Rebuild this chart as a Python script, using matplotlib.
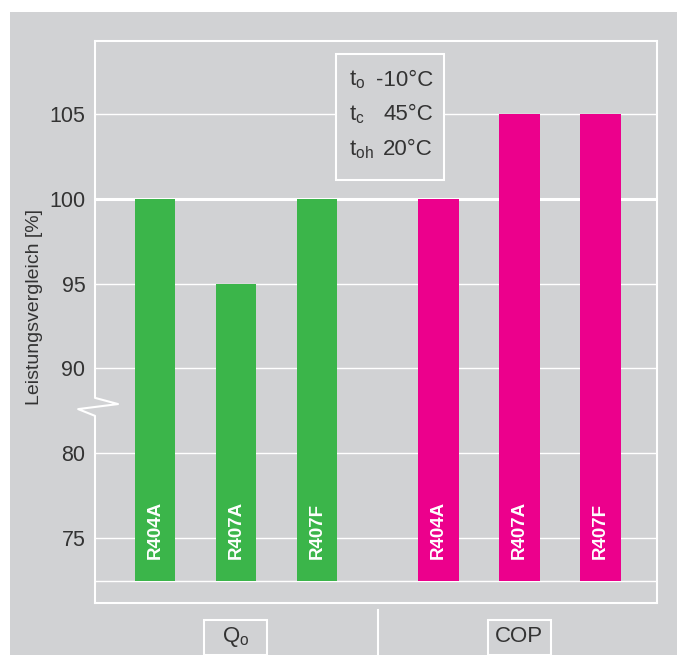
import numpy as np
import matplotlib.pyplot as plt
from matplotlib import font_manager
from matplotlib.patches import Rectangle
from matplotlib.lines import Line2D
from matplotlib.transforms import blended_transform_factory

names = {f.name for f in font_manager.fontManager.ttflist}
narrow = 'Liberation Sans Narrow' if 'Liberation Sans Narrow' in names else 'Liberation Sans'
plt.rcParams['font.family'] = [narrow, 'DejaVu Sans']

groups = ['Q$_\\mathregular{o}$', 'COP']
refrigerants = ['R404A', 'R407A', 'R407F']
qo_values = [100, 95, 100]
cop_values = [100, 105, 105]
yticks = [75, 80, 90, 95, 100, 105]
base = 72.5
conditions = [('t$_\\mathregular{o}$', '-10°C'), ('t$_\\mathregular{c}$', '45°C'), ('t$_\\mathregular{oh}$', '20°C')]

GRAY = '#d1d2d4'
GREEN = '#3bb54a'
MAGENTA = '#ec008c'
TXT = '#333333'


# broken y axis: 80..90 squeezed to the height of 5 units
def fwd(v):
    v = np.asarray(v, float)
    return np.where(v <= 80, (v - 75) / 5, np.where(v <= 90, 1 + (v - 80) / 10, 2 + (v - 90) / 5))


def inv(p):
    p = np.asarray(p, float)
    return np.where(p <= 1, 75 + 5 * p, np.where(p <= 2, 80 + 10 * (p - 1), 90 + 5 * (p - 2)))


fig = plt.figure(figsize=(6.77, 6.55), dpi=100, facecolor='white')
fig.patches.append(Rectangle((10 / 677, 0), 1, (655 - 12) / 655, transform=fig.transFigure,
                             facecolor=GRAY, edgecolor='none', zorder=-10))

ax = fig.add_axes([95 / 677, 52 / 655, 562 / 677, 562 / 655])
ax.set_facecolor('none')
ax.set_yscale('function', functions=(fwd, inv))
ax.set_ylim(71.18, 109.3)
ax.set_xlim(-0.74, 6.2)

x1 = np.arange(3)
x2 = np.arange(3) + 3.5

for y in yticks + [base]:
    ax.axhline(y, color='white', lw=2.2 if y == 100 else 1, zorder=1)

ax.bar(x1, np.array(qo_values) - base, bottom=base, width=0.5, color=GREEN, zorder=3)
ax.bar(x2, np.array(cop_values) - base, bottom=base, width=0.5, color=MAGENTA, zorder=3)
for xs in (x1, x2):
    for x, name in zip(xs, refrigerants):
        ax.text(x, 73.75, name, rotation=90, ha='center', va='bottom', color='white',
                fontsize=13.5, fontweight='bold', zorder=4)

# spines
for s in ['top', 'right', 'bottom']:
    ax.spines[s].set_color('white')
    ax.spines[s].set_linewidth(1.5)
ax.spines['left'].set_visible(False)
brk_x = [0, 0, 0.041, -0.030, 0, 0]
brk_y = [1, 0.365, 0.354, 0.345, 0.333, 0]
ax.add_line(Line2D(brk_x, brk_y, transform=ax.transAxes, color='white', lw=1.5, clip_on=False, zorder=5))

ax.set_xticks([])
ax.set_yticks(yticks)
ax.set_yticklabels([str(t) for t in yticks])
ax.tick_params(axis='y', length=0, pad=7, labelsize=15.5, labelcolor=TXT)
ax.minorticks_off()

fig.text(35 / 677, 1 - 307 / 655, 'Leistungsvergleich [%]', rotation=90, ha='center', va='center',
         fontsize=14, color=TXT)

# conditions box
ax.add_patch(Rectangle((0.429, 0.753), 0.192, 0.224, transform=ax.transAxes, facecolor=GRAY,
                       edgecolor='white', lw=1.5, zorder=6))
for i, (lab, val) in enumerate(conditions):
    yy = 1 - (80 + 35 * i) / 655
    fig.text(349 / 677, yy, lab, ha='left', va='center', fontsize=16, color=TXT, zorder=7)
    fig.text(433 / 677, yy, val, ha='right', va='center', fontsize=16, color=TXT, zorder=7)

# group labels below the axes
tr = blended_transform_factory(ax.transData, fig.transFigure)
ax.add_line(Line2D([2.75, 2.75], [0, (655 - 610) / 655], transform=tr, color='white', lw=1.5,
                   clip_on=False))
for gx, g in zip([1, 4.5], groups):
    ax.add_patch(Rectangle((gx - 0.39, 0.0), 0.78, 35 / 655, transform=tr, facecolor='none',
                           edgecolor='white', lw=1.5, clip_on=False))
    ax.text(gx, 1 - 637 / 655, g, transform=tr, ha='center', va='center', fontsize=16, color=TXT)

fig.savefig('out.png', dpi=100, facecolor='white')
